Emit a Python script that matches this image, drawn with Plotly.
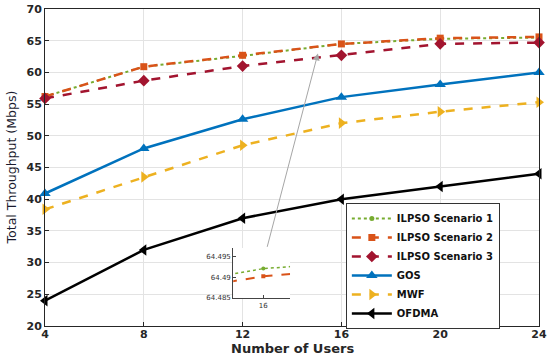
import plotly.graph_objects as go

users = [4, 8, 12, 16, 20, 24]
ilpso_s1 = [56.2, 60.9, 62.6, 64.4921, 65.3, 65.5]
ilpso_s2 = [56.2, 60.9, 62.7, 64.4902, 65.4, 65.6]
ilpso_s3 = [55.9, 58.7, 61.0, 62.7, 64.5, 64.7]
gos = [40.9, 48.0, 52.6, 56.1, 58.1, 60.0]
mwf = [38.4, 43.5, 48.5, 52.0, 53.8, 55.3]
ofdma = [24.0, 32.0, 37.0, 40.0, 42.0, 44.0]

x_ticks = [4, 8, 12, 16, 20, 24]
y_ticks = [20, 25, 30, 35, 40, 45, 50, 55, 60, 65, 70]
inset_y_ticks = [64.485, 64.49, 64.495]
inset_y_labels = ["64.485", "64.49", "64.495"]
inset_x_ticks = [16]
inset_x_range = [15.9973, 16.0024]
inset_y_range = [64.4848, 64.4972]

GREEN = "#77AC30"
ORANGE = "#D95319"
RED = "#A2142F"
BLUE = "#0072BD"
YELLOW = "#EDB120"
BLACK = "#000000"
FONT = "DejaVu Sans"
TXT = "#262626"

fig = go.Figure()

series = [
    ("ILPSO Scenario 1", ilpso_s1, GREEN, "dot", 2, "circle", 5),
    ("ILPSO Scenario 2", ilpso_s2, ORANGE, "dash", 2.5, "square", 7),
    ("ILPSO Scenario 3", ilpso_s3, RED, "dash", 2.5, "diamond", 9),
    ("GOS", gos, BLUE, "solid", 2.5, "triangle-up", 10),
    ("MWF", mwf, YELLOW, "dash", 2.5, "triangle-right", 10),
    ("OFDMA", ofdma, BLACK, "solid", 2.5, "triangle-left", 10),
]
for name, vals, col, dash, w, sym, sz in series:
    fig.add_trace(go.Scatter(
        x=users, y=vals, name=name, mode="lines+markers",
        line=dict(color=col, dash=dash, width=w),
        marker=dict(symbol=sym, size=sz, color=col),
        cliponaxis=False, xaxis="x", yaxis="y"))

# inset traces (zoom around x = 16)
for name, vals, col, dash, w, sym, sz in series[:2]:
    fig.add_trace(go.Scatter(
        x=users, y=vals, name=name, mode="lines+markers", showlegend=False,
        line=dict(color=col, dash=dash, width=1.5 if dash == "dot" else 2, simplify=False),
        marker=dict(symbol=sym, size=4, color=col),
        cliponaxis=True, xaxis="x2", yaxis="y2"))

ix0, ix1 = 0.381, 0.496
iy0, iy1 = 0.088, 0.246

def bold(vals):
    return ["<b>%s</b>" % v for v in vals]

fig.update_layout(
    width=550, height=358,
    margin=dict(l=45, r=11, t=9, b=32),
    paper_bgcolor="white", plot_bgcolor="white",
    font=dict(family=FONT, color=TXT),
    xaxis=dict(range=[4, 24], tickvals=x_ticks, ticktext=bold(x_ticks), showgrid=True,
               gridcolor="#e3e3e3", automargin=False,
               showline=True, linecolor=TXT, linewidth=1, mirror=True,
               ticks="inside", ticklen=4, tickcolor=TXT, zeroline=False,
               ticklabelstandoff=-2,
               tickfont=dict(size=11, color=TXT)),
    yaxis=dict(range=[20, 70], tickvals=y_ticks, ticktext=bold(y_ticks), showgrid=True,
               gridcolor="#e3e3e3", automargin=False,
               showline=True, linecolor=TXT, linewidth=1, mirror=True,
               ticks="inside", ticklen=4, tickcolor=TXT, zeroline=False,
               tickfont=dict(size=11, color=TXT)),
    xaxis2=dict(domain=[ix0, ix1], anchor="y2", range=inset_x_range, tickvals=inset_x_ticks,
                showgrid=False, showline=True, linecolor="#444", linewidth=1, zeroline=False,
                ticks="inside", ticklen=3, tickcolor="#444", automargin=False,
                tickfont=dict(size=7, color="#333")),
    yaxis2=dict(domain=[iy0, iy1], anchor="x2", range=inset_y_range, tickvals=inset_y_ticks,
                ticktext=inset_y_labels, automargin=False,
                showgrid=False, showline=True, linecolor="#444", linewidth=1, zeroline=False,
                ticks="inside", ticklen=3, tickcolor="#444",
                tickfont=dict(size=7, color="#333")),
    legend=dict(x=0.609, y=0.388, xanchor="left", yanchor="top",
                bgcolor="white", bordercolor="#333", borderwidth=1,
                font=dict(size=10, weight="bold", color="#111"),
                tracegroupgap=0, itemwidth=40),
    shapes=[dict(type="rect", xref="paper", yref="paper", x0=ix0, x1=ix1, y0=iy0, y1=iy1,
                 fillcolor="white", line=dict(width=0), layer="between")],
    annotations=[
        dict(x=15.05, y=63.0, xref="x", yref="y", ax=12.98, ay=32.25,
             axref="x", ayref="y", showarrow=True, arrowhead=2, arrowsize=1.4,
             arrowwidth=1, arrowcolor="#a6a6a6", text=""),
        dict(text="<b>Number of Users</b>", xref="paper", yref="paper", x=0.5, y=-0.07,
             xanchor="center", yanchor="middle", showarrow=False,
             font=dict(size=13, color=TXT)),
        dict(text="Total Throughput (Mbps)", xref="paper", yref="paper", x=-0.067, y=0.5,
             xanchor="center", yanchor="middle", showarrow=False, textangle=-90,
             font=dict(size=12.5, color="#1a1a2e")),
    ],
)

fig.write_html("out.html", config={"displayModeBar": False},
               post_script="document.body.style.margin='0px';")
